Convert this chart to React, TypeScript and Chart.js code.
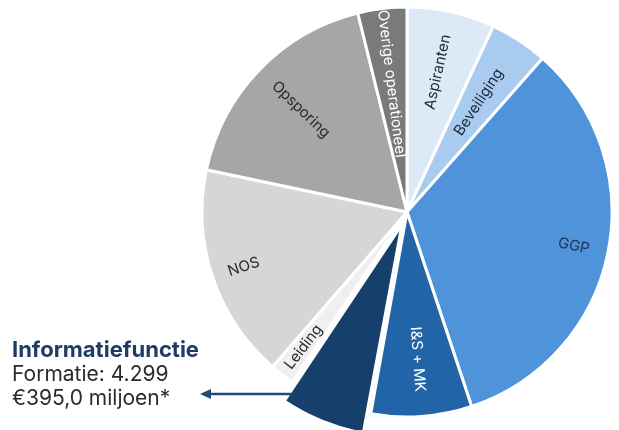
import React, { useEffect, useRef } from "react";
import { Chart, registerables } from "chart.js";

Chart.register(...registerables);

// ---- data ----
const categories = [
  "Aspiranten",
  "Beveiliging",
  "GGP",
  "I&S + MK",
  "Informatiefunctie",
  "Leiding",
  "NOS",
  "Opsporing",
  "Overige operationeel",
];
const formatie = [4500, 2980, 21700, 5160, 4299, 1260, 11000, 11590, 2510];
const sliceColors = [
  "#dce9f7",
  "#a8cbef",
  "#4f93da",
  "#2264a8",
  "#163f6b",
  "#efefef",
  "#d6d6d6",
  "#a6a6a6",
  "#7a7a7a",
];
const labelColors = ["#1f2a36", "#1f2a36", "#1c3556", "#ffffff", "", "#2a2a2a", "#2a2a2a", "#2a2a2a", "#ffffff"];
const showLabel = [true, true, true, true, false, true, true, true, true];
const labelRadius = [0.7, 0.64, 0.83, 0.72, 0, 0.83, 0.84, 0.72, 0.63];
const explode = [0, 0, 0, 0, 52, 0, 0, 0, 0];
const calloutTitle = "Informatiefunctie";
const calloutLines = ["Formatie: 4.299", "€395,0 miljoen*"];

const FONT = "Inter, 'Noto Sans', sans-serif";

const sliceLabels = {
  id: "sliceLabels",
  afterDatasetsDraw(chart: any) {
    const ctx = chart.ctx;
    const meta = chart.getDatasetMeta(0);
    meta.data.forEach((el: any, i: number) => {
      if (!showLabel[i]) return;
      const mid = (el.startAngle + el.endAngle) / 2;
      const r = el.outerRadius * labelRadius[i];
      const x = el.x + Math.cos(mid) * r;
      const y = el.y + Math.sin(mid) * r;
      let rot = mid;
      if (Math.cos(mid) < -0.001) rot += Math.PI;
      ctx.save();
      ctx.translate(x, y);
      ctx.rotate(rot);
      ctx.font = `15px ${FONT}`;
      ctx.fillStyle = labelColors[i];
      ctx.textAlign = "center";
      ctx.textBaseline = "middle";
      ctx.fillText(categories[i], 0, 0);
      ctx.restore();
    });
  },
};

const callout = {
  id: "callout",
  afterDraw(chart: any) {
    const ctx = chart.ctx;
    ctx.save();
    ctx.textAlign = "left";
    ctx.textBaseline = "alphabetic";
    ctx.fillStyle = "#1e3d62";
    ctx.font = `bold 22px ${FONT}`;
    ctx.fillText(calloutTitle, 12, 357);
    ctx.fillStyle = "#2b2b2b";
    ctx.font = `21px ${FONT}`;
    ctx.fillText(calloutLines[0], 12, 381);
    ctx.fillText(calloutLines[1], 12, 405);
    // arrow from exploded slice edge to text
    const ay = 394;
    const x1 = 292;
    const x0 = 200;
    ctx.strokeStyle = "#1e4a74";
    ctx.fillStyle = "#1e4a74";
    ctx.lineWidth = 2.5;
    ctx.beginPath();
    ctx.moveTo(x1, ay);
    ctx.lineTo(x0 + 8, ay);
    ctx.stroke();
    ctx.beginPath();
    ctx.moveTo(x0, ay);
    ctx.lineTo(x0 + 11, ay - 5);
    ctx.lineTo(x0 + 11, ay + 5);
    ctx.closePath();
    ctx.fill();
    ctx.restore();
  },
};

export default function App() {
  const ref = useRef<HTMLCanvasElement | null>(null);
  useEffect(() => {
    if (!ref.current) return;
    const chart = new Chart(ref.current, {
      type: "pie",
      data: {
        labels: categories,
        datasets: [
          {
            data: formatie,
            backgroundColor: sliceColors,
            borderColor: "#ffffff",
            borderWidth: 3,
            offset: explode,
          } as any,
        ],
      },
      options: {
        responsive: false,
        animation: false,
        devicePixelRatio: 1,
        radius: 205,
        layout: { padding: { left: 195, right: 0, top: 0, bottom: 6 } },
        plugins: {
          legend: { display: false },
          tooltip: { enabled: false },
        },
        events: [],
      } as any,
      plugins: [sliceLabels, callout],
    });
    return () => chart.destroy();
  }, []);
  return (
    <div style={{ position: "absolute", left: 0, top: 0, width: 619, height: 430, background: "#fff" }}>
      <canvas ref={ref} width={619} height={430} style={{ display: "block" }} />
    </div>
  );
}
